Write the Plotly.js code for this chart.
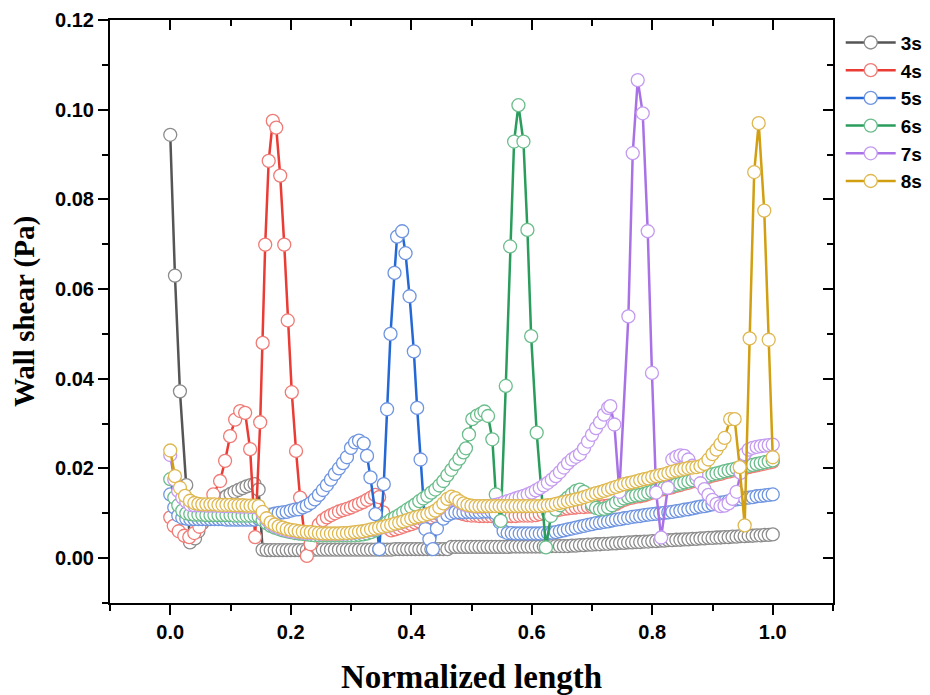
<!DOCTYPE html>
<html>
<head>
<meta charset="utf-8">
<script src="https://cdn.plot.ly/plotly-3.0.1.min.js"></script>
<style>
html,body{margin:0;padding:0;background:#fff;}
#chart{width:930px;height:695px;}
</style>
</head>
<body>
<div id="chart"></div>
<script>
// shared mesh positions (normalized length)
const xg = [
0,0.0067,0.0133,0.02,0.0267,0.0333,0.04,0.0467,0.0533,0.06,
0.0667,0.0733,0.08,0.0867,0.0933,0.1,0.1067,0.1133,0.12,0.1267,
0.1333,0.14,0.1467,0.1533,0.16,0.1667,0.1733,0.18,0.1867,0.1933,
0.2,0.2067,0.2133,0.22,0.2267,0.2333,0.24,0.2467,0.2533,0.26,
0.2667,0.2733,0.28,0.2867,0.2933,0.3,0.3067,0.3133,0.32,0.3267,
0.3333,0.34,0.3467,0.3533,0.36,0.3667,0.3733,0.38,0.3867,0.3933,
0.4,0.4067,0.4133,0.42,0.4267,0.4333,0.44,0.4467,0.4533,0.46,
0.4667,0.4733,0.48,0.4867,0.4933,0.5,0.5067,0.5133,0.52,0.5267,
0.5333,0.54,0.5467,0.5533,0.56,0.5667,0.5733,0.58,0.5867,0.5933,
0.6,0.6067,0.6133,0.62,0.6267,0.6333,0.64,0.6467,0.6533,0.66,
0.6667,0.6733,0.68,0.6867,0.6933,0.7,0.7067,0.7133,0.72,0.7267,
0.7333,0.74,0.7467,0.7533,0.76,0.7667,0.7733,0.78,0.7867,0.7933,
0.8,0.8067,0.8133,0.82,0.8267,0.8333,0.84,0.8467,0.8533,0.86,
0.8667,0.8733,0.88,0.8867,0.8933,0.9,0.9067,0.9133,0.92,0.9267,
0.9333,0.94,0.9467,0.9533,0.96,0.9667,0.9733,0.98,0.9867,0.9933,
1.0];

const seriesNames = ['3s','4s','5s','6s','7s','8s'];

// ---- 3s ----
const x3sHead = [0,0.0078,0.0161,0.0266,0.0328,0.0411];
const y3s = [
0.0944,0.0630,0.0372,0.0163,0.0035,0.0044,
0.0060,0.0078,0.0095,0.0108,0.0118,0.0126,0.0133,0.0138,0.0143,0.0148,0.0152,0.0156,0.0160,0.0163,0.0165,0.0153,
0.0019,
0.0018,0.0018,0.0018,0.0018,0.0018,0.0018,0.0018,0.0018,0.0018,0.0018,0.0018,0.0018,
0.0019,0.0019,0.0019,0.0019,0.0019,0.0019,0.0019,0.0019,0.0019,0.0019,0.0019,0.0019,0.0019,0.0019,0.0019,0.0019,0.0019,0.0019,0.0019,0.0019,
0.0020,0.0020,0.0020,0.0020,0.0020,0.0020,0.0020,0.0020,0.0020,0.0020,0.0020,0.0020,0.0020,0.0020,
0.0025,0.0025,0.0025,0.0025,0.0025,0.0025,0.0025,0.0025,0.0025,0.0025,0.0025,0.0025,0.0025,0.0025,0.0025,
0.0026,0.0026,0.0026,0.0026,0.0026,0.0026,0.0026,0.0026,0.0026,0.0026,
0.0027,0.0027,0.0027,0.0027,0.0027,
0.0028,0.0028,0.0029,0.0029,0.0030,0.0030,0.0031,0.0031,0.0032,0.0032,0.0033,0.0033,0.0034,0.0034,0.0035,0.0035,0.0036,0.0036,0.0037,0.0037,
0.0038,0.0038,0.0039,0.0039,0.0040,0.0040,0.0041,0.0041,0.0042,0.0042,0.0043,0.0043,0.0044,0.0044,0.0045,0.0045,0.0046,0.0046,0.0047,0.0047,
0.0048,0.0048,0.0049,0.0049,0.0050,0.0050,0.0051,0.0051,0.0052,0.0052,0.0053];
const x3s = x3sHead.concat(xg.slice(7));

// ---- 4s ----
const x4sHead = [0,0.0058,0.0141,0.0233,0.0316,0.0399,0.0483,0.0566,0.0641,0.0715,
0.0827,0.0910,0.0993,0.1077,0.1160,0.1243,0.1326,0.1409,0.1493,0.1534,
0.1576,0.1634,0.1702,0.1759,0.1825,0.1892,0.1950,0.2017,0.2088,0.2155,
0.2268,0.2329];
const y4s = [
0.0091,0.0072,0.0060,0.0050,0.0047,0.0056,0.0070,0.0090,0.0115,0.0142,
0.0172,0.0217,0.0272,0.0309,0.0328,0.0324,0.0243,0.0047,0.0303,0.0480,
0.0699,0.0886,0.0975,0.0960,0.0853,0.0699,0.0530,0.0370,0.0239,0.0135,
0.0005,0.0031,
0.0060,0.0075,0.0085,0.0091,0.0096,0.0100,0.0104,0.0107,0.0110,0.0113,0.0117,0.0121,0.0125,0.0130,0.0135,0.0141,0.0136,0.0102,0.0068,0.0062,
0.0064,0.0067,0.0070,0.0073,0.0076,0.0079,0.0082,0.0085,0.0088,0.0091,0.0094,0.0097,0.0100,0.0104,0.0106,0.0105,0.0101,0.0098,
0.0096,0.0095,0.0095,0.0094,0.0094,0.0094,0.0094,0.0094,0.0094,0.0094,0.0094,0.0094,0.0094,0.0095,0.0095,0.0095,0.0095,
0.0096,0.0098,0.0100,0.0102,0.0104,0.0106,0.0108,0.0110,0.0111,0.0112,
0.0113,0.0114,0.0114,0.0115,0.0115,0.0115,0.0115,0.0116,0.0117,0.0117,
0.0121,0.0126,0.0130,0.0133,0.0135,0.0137,0.0138,0.0140,0.0143,0.0146,
0.0149,0.0152,0.0154,0.0156,0.0158,0.0161,0.0163,0.0166,0.0168,0.0171,
0.0174,0.0177,0.0179,0.0181,0.0184,0.0186,0.0188,0.0191,0.0193,0.0195,
0.0197,0.0199,0.0201,0.0203,0.0205,0.0207,0.0209,0.0211,0.0213,0.0215];
const x4s = x4sHead.concat(xg.slice(36));

// ---- 5s ----
const x5sPeak = [0.3211,0.3266,0.3323,0.3406,0.3469,0.3544,0.3599,0.3656,0.3722,0.3765,
0.3849,0.3905,0.3972,0.4043,0.4098,0.4155,0.4235,0.4301,0.4359,0.4426];
const y5s = [
0.0142,0.0113,0.0095,0.0090,0.0088,
0.0087,0.0087,0.0087,0.0087,0.0087,0.0087,0.0087,0.0087,0.0087,0.0086,0.0086,0.0086,0.0086,0.0086,0.0086,0.0086,0.0086,
0.0088,0.0091,0.0094,0.0097,0.0099,0.0101,0.0102,0.0103,0.0106,0.0108,0.0109,0.0113,0.0117,0.0123,0.0131,0.0141,0.0152,0.0163,0.0175,0.0188,0.0200,0.0212,0.0225,0.0246,0.0258,0.0262,
0.0256,0.0228,0.0180,0.0098,0.0020,0.0165,0.0332,0.0500,0.0636,0.0717,
0.0729,0.0680,0.0584,0.0461,0.0335,0.0220,0.0065,0.0042,0.0020,0.0066,
0.0088,0.0096,0.0100,
0.0102,0.0102,0.0102,0.0103,0.0103,0.0103,0.0103,0.0104,0.0104,0.0104,
0.0100,0.0080,0.0060,
0.0056,0.0056,0.0055,0.0055,0.0055,0.0055,0.0055,0.0055,0.0055,0.0056,0.0056,0.0057,
0.0058,0.0060,0.0062,0.0064,0.0066,0.0068,0.0070,0.0072,0.0074,0.0076,
0.0078,0.0079,0.0081,0.0082,0.0084,0.0086,0.0087,0.0089,0.0090,0.0092,
0.0093,0.0094,0.0096,0.0097,0.0098,0.0099,0.0100,0.0101,0.0102,0.0103,
0.0105,0.0106,0.0108,0.0109,0.0111,0.0113,0.0115,0.0116,0.0118,0.0120,
0.0122,0.0124,0.0125,0.0127,0.0129,0.0131,0.0132,0.0134,0.0135,0.0136,
0.0138,0.0139,0.0140,0.0141,0.0142];
const x5s = xg.slice(0,48).concat(x5sPeak, xg.slice(68));

// ---- 6s ----
const x6sPeak = [0.4908,0.4958,0.5013,0.5092,0.5158,0.5216,0.5275,0.5346,0.5403,0.5486,
0.5569,0.5641,0.5707,0.5779,0.5862,0.5928,0.5990,0.6082,0.6235,0.6318];
const y6s = [
0.0176,0.0135,0.0118,0.0106,0.0100,
0.0098,0.0097,0.0097,0.0097,0.0096,0.0096,0.0096,0.0096,0.0096,0.0096,0.0096,0.0095,0.0095,0.0095,0.0095,0.0095,0.0095,
0.0093,0.0085,0.0078,0.0072,0.0068,0.0065,0.0062,0.0060,0.0058,0.0056,0.0055,0.0054,0.0053,0.0052,
0.0051,0.0051,0.0051,0.0051,0.0051,0.0051,0.0051,0.0051,0.0051,0.0051,0.0051,
0.0052,0.0053,0.0055,0.0058,0.0062,0.0067,0.0073,0.0080,0.0086,0.0091,0.0096,0.0102,0.0108,0.0114,0.0120,0.0127,0.0133,0.0139,0.0146,0.0153,0.0162,0.0172,0.0185,0.0197,0.0210,0.0222,0.0236,
0.0245,0.0276,0.0310,0.0318,0.0322,0.0327,0.0317,0.0265,0.0142,0.0083,
0.0384,0.0695,0.0929,0.1010,0.0929,0.0732,0.0495,0.0280,0.0024,0.0094,
0.0108,0.0118,0.0127,0.0135,0.0143,0.0150,0.0153,0.0148,0.0135,0.0120,0.0112,0.0109,0.0110,0.0113,0.0118,
0.0124,0.0129,0.0133,0.0136,0.0138,0.0140,0.0141,0.0143,0.0146,0.0149,
0.0152,0.0155,0.0157,0.0159,0.0161,0.0164,0.0166,0.0169,0.0171,0.0174,
0.0177,0.0180,0.0182,0.0184,0.0187,0.0189,0.0191,0.0194,0.0196,0.0198,
0.0200,0.0202,0.0204,0.0206,0.0208,0.0210,0.0212,0.0214,0.0216,0.0218];
const x6s = xg.slice(0,74).concat(x6sPeak, xg.slice(96));

// ---- 7s ----
const x7sPeak = [0.7304,0.7371,0.7454,0.7604,0.7676,0.7759,0.7842,0.7925,0.7995,0.8065,0.8148,0.8258];
const y7s = [
0.0230,0.0175,0.0150,0.0135,0.0126,
0.0119,0.0118,0.0118,0.0118,0.0117,0.0117,0.0117,0.0117,0.0116,0.0116,0.0116,0.0116,0.0115,0.0115,0.0115,0.0114,0.0114,
0.0112,0.0098,0.0086,0.0077,0.0072,0.0068,0.0065,0.0062,0.0060,0.0059,0.0058,0.0057,0.0056,0.0056,
0.0056,0.0055,0.0054,0.0054,0.0054,0.0054,0.0054,0.0055,0.0055,0.0056,0.0057,0.0058,0.0059,0.0061,0.0063,
0.0065,0.0067,0.0069,0.0071,0.0073,0.0076,0.0078,0.0081,0.0084,0.0087,0.0090,0.0092,0.0094,0.0097,0.0100,0.0105,0.0111,0.0119,0.0128,0.0133,0.0131,0.0125,0.0120,
0.0117,0.0116,0.0115,0.0115,0.0115,0.0116,
0.0117,0.0119,0.0121,0.0124,0.0127,0.0130,0.0133,0.0136,0.0139,0.0142,
0.0146,0.0151,0.0156,0.0162,0.0168,0.0175,0.0183,0.0192,0.0202,0.0212,
0.0220,0.0226,0.0232,0.0245,0.0260,0.0275,0.0290,0.0303,0.0320,0.0335,
0.0339,0.0298,0.0148,0.0539,0.0903,0.1066,0.0992,0.0729,0.0413,0.0146,0.0046,0.0157,
0.0220,0.0226,0.0229,0.0228,0.0220,0.0206,0.0186,0.0167,0.0154,0.0141,
0.0130,0.0121,0.0116,0.0117,0.0122,0.0132,0.0148,0.0190,0.0232,0.0242,
0.0246,0.0248,0.0250,0.0251,0.0252,0.0253];
const x7s = xg.slice(0,110).concat(x7sPeak, xg.slice(125));

// ---- 8s ----
const x8sHead = [0,0.0078,0.0161,0.0245,0.0328];
const x8sTail = [0.9293,0.9368,0.9451,0.9534,0.9617,0.9692,0.9767,0.9859,0.9933,1.0];
const y8s = [
0.0240,0.0183,0.0157,0.0139,0.0128,
0.0123,0.0121,
0.0120,0.0120,0.0120,0.0120,0.0119,0.0119,0.0119,0.0119,0.0118,0.0118,0.0118,0.0117,0.0117,0.0117,
0.0116,0.0103,0.0089,0.0080,0.0075,0.0071,0.0068,0.0065,0.0063,0.0062,0.0060,0.0059,0.0058,0.0058,0.0057,
0.0056,0.0055,0.0055,0.0055,0.0055,0.0055,0.0056,0.0056,0.0057,0.0058,0.0059,0.0060,0.0062,0.0064,
0.0066,0.0068,0.0070,0.0072,0.0074,0.0077,0.0079,0.0082,0.0085,0.0088,0.0091,0.0093,0.0095,0.0098,0.0101,0.0106,0.0113,0.0122,0.0132,0.0137,0.0134,0.0127,0.0122,
0.0119,0.0117,
0.0116,0.0116,0.0116,0.0116,0.0116,0.0116,0.0116,0.0116,0.0116,0.0116,0.0116,0.0116,0.0116,0.0116,0.0116,0.0116,0.0116,
0.0117,0.0118,0.0119,0.0121,0.0123,0.0125,0.0127,0.0129,0.0131,0.0133,
0.0136,0.0139,0.0142,0.0145,0.0147,0.0150,0.0153,0.0156,0.0159,0.0162,
0.0165,0.0167,0.0169,0.0171,0.0174,0.0176,0.0178,0.0181,0.0183,0.0185,
0.0187,0.0190,0.0193,0.0195,0.0197,0.0199,0.0201,0.0202,0.0203,0.0205,
0.0210,0.0220,0.0232,0.0242,0.0254,0.0268,
0.0310,0.0310,0.0203,0.0073,0.0490,0.0861,0.0970,0.0775,0.0487,0.0225];
const x8s = x8sHead.concat(xg.slice(6,139), x8sTail);

const xTickVals = [0,0.2,0.4,0.6,0.8,1.0];
const xTickText = ['0.0','0.2','0.4','0.6','0.8','1.0'];
const xMinorVals = [-0.1,0.1,0.3,0.5,0.7,0.9,1.1];
const yTickVals = [0,0.02,0.04,0.06,0.08,0.10,0.12];
const yTickText = ['0.00','0.02','0.04','0.06','0.08','0.10','0.12'];
const yMinorVals = [-0.01,0.01,0.03,0.05,0.07,0.09,0.11];

const xs = [x3s,x4s,x5s,x6s,x7s,x8s];
const ys = [y3s,y4s,y5s,y6s,y7s,y8s];
xs.forEach((x,k)=>{ if(x.length!==ys[k].length) throw new Error('length mismatch '+seriesNames[k]+': '+x.length+' vs '+ys[k].length); });

const lineColors = ['#555555','#ea3b35','#2468d6','#2a9d5c','#a872e6','#d19f11'];
const edgeColors = ['#8c8c8c','#f07b76','#6f95e0','#6bbd8c','#c49bf0','#dfb850'];

const traces = seriesNames.map((n,k)=>({
  type:'scatter', mode:'lines+markers', name:n,
  x: xs[k], y: ys[k],
  line:{color:lineColors[k], width:2.5},
  marker:{symbol:'circle', size:13, color:'#ffffff', line:{color:edgeColors[k], width:1.3}},
  hoverinfo:'skip'
}));
traces.push({type:'scatter', mode:'markers', x:[null], y:[null], xaxis:'x2', yaxis:'y2', showlegend:false, hoverinfo:'skip'});

const tickFont = {family:'Liberation Sans, Arial, sans-serif', size:20, color:'#000', weight:'bold'};
const layout = {
  width:930, height:695,
  margin:{l:110, r:97, t:20, b:92},
  paper_bgcolor:'#fff', plot_bgcolor:'#fff',
  showlegend:true,
  hovermode:false,
  xaxis:{range:[-0.1,1.1], showgrid:false, zeroline:false, showline:true, linecolor:'#000', linewidth:2,
    ticks:'outside', ticklen:10, tickwidth:2, tickcolor:'#000', tickmode:'array', tickvals:xTickVals, ticktext:xTickText,
    minor:{ticks:'outside', ticklen:6, tickwidth:2, tickcolor:'#000', tickmode:'array', tickvals:xMinorVals},
    tickfont:{family:'Liberation Sans Narrow, Liberation Sans, Arial, sans-serif', size:20, color:'#000', weight:'bold'},
    title:{text:'Normalized length', font:{family:'Liberation Serif, Times New Roman, serif', size:33, color:'#000', weight:'bold'}, standoff:23}},
  yaxis:{range:[-0.01,0.12], showgrid:false, zeroline:false, showline:true, linecolor:'#000', linewidth:2,
    ticks:'outside', ticklen:10, tickwidth:2, tickcolor:'#000', tickmode:'array', tickvals:yTickVals, ticktext:yTickText,
    minor:{ticks:'outside', ticklen:6, tickwidth:2, tickcolor:'#000', tickmode:'array', tickvals:yMinorVals},
    tickfont:tickFont,
    title:{text:'Wall shear (Pa)', font:{family:'Liberation Serif, Times New Roman, serif', size:29, color:'#000', weight:'bold'}, standoff:12}},
  xaxis2:{overlaying:'x', side:'top', anchor:'y', range:[-0.1,1.1], showgrid:false, zeroline:false, showline:true, linecolor:'#000', linewidth:2,
    ticks:'inside', ticklen:10, tickwidth:2, tickcolor:'#000', tickmode:'array', tickvals:xTickVals, showticklabels:false,
    minor:{ticks:'inside', ticklen:6, tickwidth:2, tickcolor:'#000', tickmode:'array', tickvals:xMinorVals}},
  yaxis2:{overlaying:'y', side:'right', anchor:'x', range:[-0.01,0.12], showgrid:false, zeroline:false, showline:true, linecolor:'#000', linewidth:2,
    ticks:'inside', ticklen:10, tickwidth:2, tickcolor:'#000', tickmode:'array', tickvals:yTickVals, showticklabels:false,
    minor:{ticks:'inside', ticklen:6, tickwidth:2, tickcolor:'#000', tickmode:'array', tickvals:yMinorVals}},
  legend:{xref:'container', yref:'container', x:0.904, xanchor:'left', y:0.966, yanchor:'top', bgcolor:'rgba(0,0,0,0)', borderwidth:0,
    font:{family:'Liberation Sans, Arial, sans-serif', size:19, color:'#000', weight:'bold'}, itemwidth:50, tracegroupgap:0}
};

Plotly.newPlot('chart', traces, layout, {displayModeBar:false, staticPlot:true});
</script>
</body>
</html>
